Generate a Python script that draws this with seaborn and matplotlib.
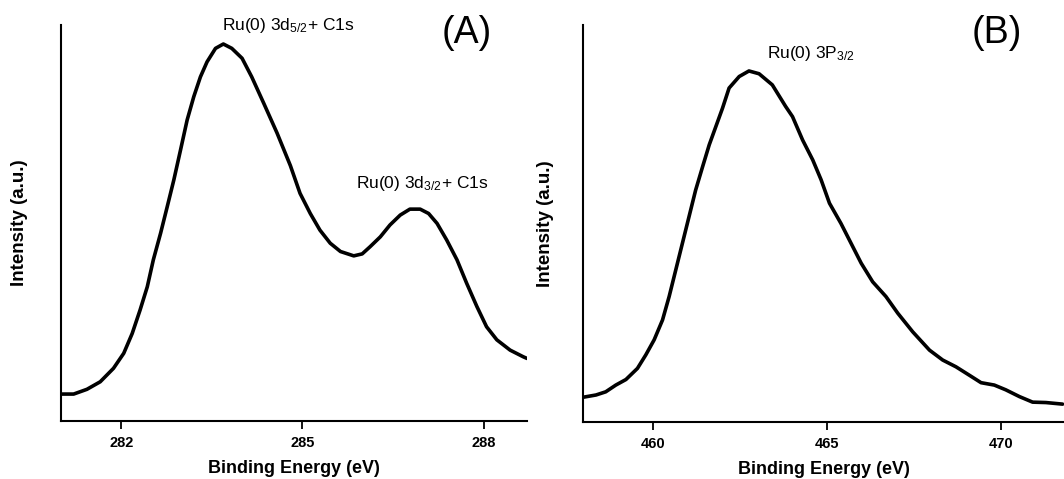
import numpy as np
import pandas as pd
import matplotlib
matplotlib.use('Agg')
import matplotlib.pyplot as plt
import seaborn as sns

# ==================================================
# 数据：XPS 谱线 (a.u.)
# ==================================================
# (A) Ru 3d + C1s
energy_a = [280.99, 281.21, 281.43, 281.65, 281.87, 282.04, 282.18, 282.31,
            282.43, 282.53, 282.65, 282.76, 282.87, 282.98, 283.09, 283.20,
            283.31, 283.42, 283.56, 283.69, 283.83, 284.00, 284.16, 284.36,
            284.58, 284.80, 284.96, 285.13, 285.29, 285.46, 285.63, 285.85,
            285.99, 286.12, 286.29, 286.45, 286.62, 286.78, 286.95, 287.09,
            287.23, 287.39, 287.56, 287.72, 287.89, 288.05, 288.22, 288.44,
            288.66, 288.72]
intensity_a = [6.8, 6.8, 8.0, 9.9, 13.3, 17.1, 22.1, 28.0,
               33.9, 40.7, 47.4, 54.1, 60.9, 68.4, 76.0, 81.9,
               86.9, 90.7, 94.1, 95.2, 94.1, 91.6, 86.9, 80.2,
               72.7, 64.5, 57.5, 52.4, 48.2, 44.9, 42.8, 41.7,
               42.2, 44.0, 46.5, 49.5, 52.0, 53.5, 53.5, 52.4,
               49.9, 45.7, 40.7, 34.8, 28.9, 23.8, 20.5, 17.9,
               16.2, 15.8]

# (B) Ru 3p3/2
energy_b = [457.98, 458.37, 458.65, 458.94, 459.23, 459.56, 459.80, 460.04,
            460.28, 460.47, 460.66, 460.85, 461.04, 461.23, 461.43, 461.62,
            461.81, 462.00, 462.19, 462.48, 462.76, 463.05, 463.43, 463.81,
            464.01, 464.30, 464.59, 464.83, 465.07, 465.40, 465.69, 465.98,
            466.31, 466.69, 467.03, 467.46, 467.94, 468.32, 468.70, 469.08,
            469.42, 469.80, 470.13, 470.52, 470.90, 471.28, 471.76]
intensity_b = [6.2, 6.8, 7.6, 9.3, 10.7, 13.5, 16.9, 20.7,
               25.7, 31.6, 38.3, 45.0, 51.7, 58.4, 64.3, 69.8,
               74.4, 79.0, 84.1, 87.0, 88.4, 87.7, 84.9, 79.5,
               76.9, 71.0, 66.0, 61.0, 55.1, 50.0, 45.0, 40.0,
               35.3, 31.6, 27.4, 22.7, 18.1, 15.6, 13.9, 11.8,
               9.9, 9.3, 8.1, 6.4, 5.0, 4.9, 4.5]

ticks_a = [282, 285, 288]
ticks_b = [460, 465, 470]

df_a = pd.DataFrame({'energy': energy_a, 'intensity': intensity_a})
df_b = pd.DataFrame({'energy': energy_b, 'intensity': intensity_b})

# ==================================================
# 绘图
# ==================================================
sns.set_style('ticks')
plt.rcParams['font.family'] = ['Liberation Sans', 'DejaVu Sans']
plt.rcParams['mathtext.fontset'] = 'custom'
plt.rcParams['mathtext.rm'] = 'Liberation Sans'
plt.rcParams['mathtext.it'] = 'Liberation Sans:italic'
plt.rcParams['text.color'] = 'black'
plt.rcParams['axes.labelcolor'] = 'black'
plt.rcParams['xtick.color'] = 'black'

fig = plt.figure(figsize=(10.64, 4.79), dpi=100)
ax_a = fig.add_axes([0.0573, 0.1211, 0.438, 0.8267])
ax_b = fig.add_axes([0.548, 0.119, 0.452, 0.829])

panels = [
    (ax_a, df_a, ticks_a, (281.0, 288.72), 24),
    (ax_b, df_b, ticks_b, (458.0, 471.8), 21),
]

for ax, df, ticks, xlim, ypad in panels:
    sns.lineplot(data=df, x='energy', y='intensity', ax=ax,
                 color='black', linewidth=2.6, estimator=None, sort=False)
    ax.set_xlim(*xlim)
    ax.set_ylim(0, 100)
    ax.set_xticks(ticks)
    ax.set_yticks([])
    ax.tick_params(axis='x', direction='out', length=6, width=1.3,
                   labelsize=10.5, pad=5)
    for lbl in ax.get_xticklabels():
        lbl.set_fontweight('bold')
    for s in ['top', 'right']:
        ax.spines[s].set_visible(False)
    for s in ['left', 'bottom']:
        ax.spines[s].set_linewidth(1.5)
        ax.spines[s].set_color('black')
    ax.set_xlabel('Binding Energy (eV)', fontsize=13, fontweight='bold', labelpad=7)
    ax.set_ylabel('Intensity (a.u.)', fontsize=13.5, fontweight='bold', labelpad=ypad)

# 注释
ax_a.text(283.67, 99.8, r'Ru(0) 3d$_{5/2}$+ C1s', fontsize=12.5, ha='left', va='center')
ax_a.text(285.89, 60.0, r'Ru(0) 3d$_{3/2}$+ C1s', fontsize=12.5, ha='left', va='center')
ax_a.text(0.87, 0.98, '(A)', fontsize=27, ha='center', va='center',
          transform=ax_a.transAxes)

ax_b.text(463.29, 92.7, r'Ru(0) 3P$_{3/2}$', fontsize=12.5, ha='left', va='center')
ax_b.text(0.861, 0.98, '(B)', fontsize=27, ha='center', va='center',
          transform=ax_b.transAxes)

fig.savefig('out.png', dpi=100)
